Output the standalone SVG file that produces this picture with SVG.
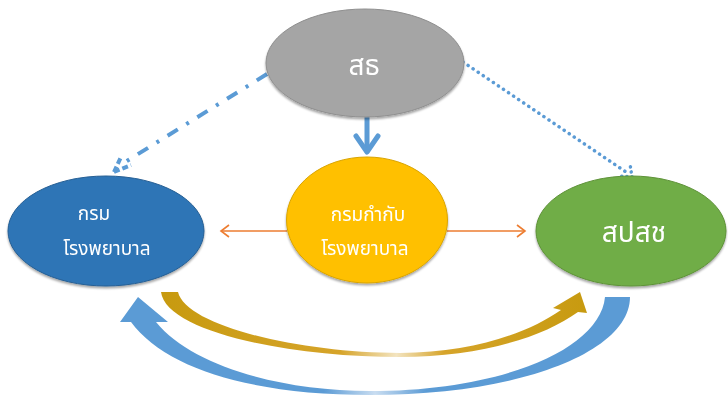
<svg xmlns="http://www.w3.org/2000/svg" width="728" height="396" viewBox="0 0 728 396">
<defs>
<style>
.lbl{font-family:"Noto Sans","Noto Sans Thai","DejaVu Sans",sans-serif;fill:#ffffff;text-anchor:middle}
.big{font-size:28px}
.sm{font-size:19px}
.orange{stroke:#ed7d31;stroke-width:1.6;fill:none}
.blue{stroke:#5b9bd5;fill:none}
</style>
<filter id="sh" x="-10%" y="-10%" width="120%" height="130%">
<feDropShadow dx="0" dy="2" stdDeviation="1.2" flood-color="#000" flood-opacity="0.35"/>
</filter>
<linearGradient id="gGold" gradientUnits="userSpaceOnUse" x1="160" y1="0" x2="590" y2="0">
<stop offset="0" stop-color="#c79a0f"/>
<stop offset="0.42" stop-color="#d6a42a"/>
<stop offset="0.55" stop-color="#f3e4c0"/>
<stop offset="0.66" stop-color="#d6a42a"/>
<stop offset="1" stop-color="#c79a0f"/>
</linearGradient>
<linearGradient id="gBlue" gradientUnits="userSpaceOnUse" x1="118" y1="0" x2="632" y2="0">
<stop offset="0" stop-color="#5b9bd5"/>
<stop offset="0.4" stop-color="#5b9bd5"/>
<stop offset="0.5" stop-color="#c9ddf1"/>
<stop offset="0.6" stop-color="#5b9bd5"/>
<stop offset="1" stop-color="#5b9bd5"/>
</linearGradient>
</defs>
<rect width="728" height="396" fill="#ffffff"/>

<g id="connectors">
<!-- gray to yellow -->
<g class="blue" stroke-width="5" stroke-linecap="round" stroke-linejoin="round">
<line x1="367" y1="117" x2="367" y2="151"/>
<polyline points="356,136 367,152 378,136"/>
</g>
<!-- dash dot to left -->
<g class="blue" stroke-width="4">
<line x1="267" y1="74" x2="122" y2="164" stroke-dasharray="12 10 3 10"/>
<line x1="114" y1="172" x2="121" y2="157" stroke-dasharray="6 3"/>
<line x1="114" y1="172" x2="131" y2="165" stroke-dasharray="6 3"/>
</g>
<!-- dotted to right -->
<g class="blue" stroke-width="3.5" stroke-linecap="round">
<line x1="463" y1="62" x2="629" y2="174" stroke-dasharray="0.1 6"/>
<line x1="632" y1="177" x2="630" y2="164" stroke-dasharray="0.1 5"/>
<line x1="632" y1="177" x2="619" y2="176" stroke-dasharray="0.1 5"/>
</g>
<!-- orange arrows -->
<line class="orange" x1="287" y1="231" x2="221" y2="231"/>
<polyline class="orange" points="229,225 221,231 229,237"/>
<line class="orange" x1="447" y1="231" x2="525" y2="231"/>
<polyline class="orange" points="517,225 525,231 517,237"/>
<!-- gold curved arrow -->
<path fill="url(#gGold)" d="M161,292 L178,292 C186,326 300,353 400,353 C472,353 528,333 561,310 L553,308 L580,292 L587,313 L578,312 C542,338 478,357 400,357 C290,357 166,332 161,292 Z"/>
<!-- blue curved arrow -->
<path fill="url(#gBlue)" d="M630,297 C630,352 520,395 370,395 C250,395 165,368 131,322 L120,322 L138,297 L168,322 L156,322 C192,366 280,391 370,391 C500,391 600,350 605,297 Z"/>
</g>

<g id="node-sot" filter="url(#sh)">
<ellipse cx="365" cy="63" rx="99" ry="54" fill="#a5a5a5" stroke="#8f8f8f" stroke-width="1"/>
<text class="lbl big" x="364" y="75">สธ</text>
</g>

<g id="node-krom" filter="url(#sh)">
<ellipse cx="106" cy="231" rx="98" ry="55" fill="#2e75b6" stroke="#265f94" stroke-width="1"/>
<text class="lbl sm" x="94" y="220">กรม</text>
<text class="lbl sm" x="107" y="255">โรงพยาบาล</text>
</g>

<g id="node-kromkamkab" filter="url(#sh)">
<ellipse cx="367" cy="220" rx="80.5" ry="63" fill="#ffc000" stroke="#d9a400" stroke-width="1"/>
<text class="lbl sm" x="368" y="221">กรมกำกับ</text>
<text class="lbl sm" x="365" y="255">โรงพยาบาล</text>
</g>

<g id="node-spsch" filter="url(#sh)">
<ellipse cx="631" cy="231" rx="95" ry="55" fill="#70ad47" stroke="#5e9238" stroke-width="1"/>
<text class="lbl big" x="634" y="242">สปสช</text>
</g>
</svg>
